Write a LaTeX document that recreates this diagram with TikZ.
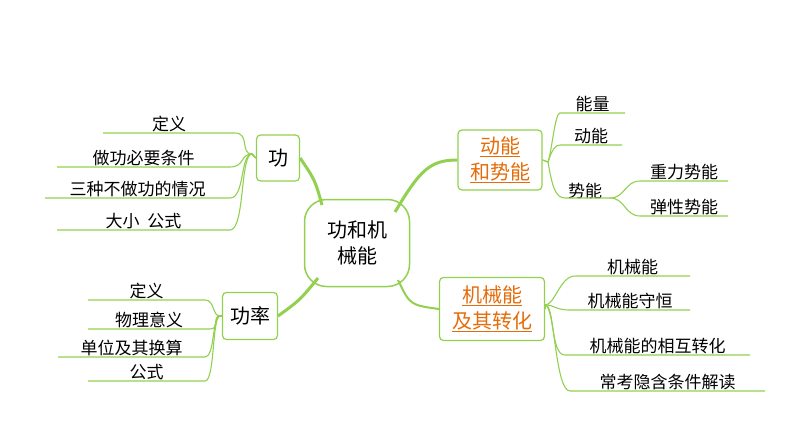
\documentclass[tikz,border=0pt]{standalone}
\usepackage{fontspec}
\setmainfont{Noto Sans CJK SC}
\definecolor{gr}{RGB}{146,208,80}
\definecolor{org}{RGB}{228,108,10}
\begin{document}
\begin{tikzpicture}[x=1pt,y=-1pt,
  box/.style={draw=gr,line width=1.2pt,rounded corners=4pt,fill=white,inner sep=4pt,align=center,font=\fontsize{20}{26}\selectfont},
  leaf/.style={font=\fontsize{17}{20}\selectfont,anchor=south,inner sep=1pt},
  ln/.style={draw=gr,line width=1.1pt},
  big/.style={draw=gr,line width=3pt}]
\useasboundingbox (0,0) rectangle (794,447);
% center
\node[box,rounded corners=22pt,minimum width=105pt,minimum height=87pt,line width=1.5pt] (c) at (357,243) {功和机\\械能};
\node[box,minimum width=43pt,minimum height=46pt] (g) at (278,158) {功};
\node[box,minimum width=55pt,minimum height=47pt] (gl) at (250,316) {功率};
\node[box,minimum width=84pt,minimum height=60pt,text=org] (dn) at (500,160) {\underline{动能}\\\underline{和势能}};
\node[box,minimum width=105pt,minimum height=63pt,text=org] (jx) at (492,309) {\underline{机械能}\\\underline{及其转化}};
% main connectors
\coordinate (c1) at (322,205); \coordinate (c2) at (395,212);
\coordinate (c3) at (318,278); \coordinate (c4) at (398,280);
\draw[big] (c1) .. controls (315,180) .. (g.east);
\draw[big] (c2) .. controls (420,170) and (430,160) .. (dn.west);
\draw[big] (c3) .. controls (300,300) .. (gl.east);
\draw[big,line width=2pt] (c4) .. controls (410,305) .. (jx.west);
% 功 leaves
\coordinate (pg) at (252,154);
\foreach \n/\t/\y/\a/\b in {g1/定义/133/103/235, g2/做功必要条件/167/57/230, g3/三种不做功的情况/198/45/230, g4/大小\ \ 公式/230/57/230}{
  \coordinate (\n a) at (\a,\y); \coordinate (\n b) at (\b,\y);
  \node[leaf] (\n) at ({(\a+\b)/2},\y) {\t};
  \draw[ln] (\n a) -- (\n b) .. controls ({\b+15},\y) and (240,154) .. (pg) -- (g.west);
}
% 功率 leaves
\coordinate (pl) at (220,316);
\foreach \n/\t/\y/\a/\b in {l1/定义/300/88/205, l2/物理意义/329/88/210, l3/单位及其换算/357/58/205, l4/公式/381/88/205}{
  \coordinate (\n a) at (\a,\y); \coordinate (\n b) at (\b,\y);
  \node[leaf] (\n) at ({(\a+\b)/2},\y) {\t};
  \draw[ln] (\n a) -- (\n b) .. controls ({\b+10},\y) and (212,316) .. (pl) -- (gl.west);
}
% 动能和势能 leaves
\coordinate (pd) at (548,162);
\foreach \n/\t/\y/\a/\b in {d1/能量/113/560/625, d2/动能/145/560/622}{
  \coordinate (\n a) at (\a,\y); \coordinate (\n b) at (\b,\y);
  \node[leaf] (\n) at ({(\a+\b)/2},\y) {\t};
  \draw[ln] (dn.east) -- (pd) .. controls (552,150) and (555,\y) .. (\n a) -- (\n b);
}
\coordinate (sa) at (565,198); \coordinate (sb) at (610,198);
\node[leaf] (d3) at (585,200) {势能};
\draw[ln] (pd) .. controls (552,185) and (555,198) .. (sa) -- (sb);
\foreach \n/\t/\y in {s1/重力势能/181, s2/弹性势能/216}{
  \coordinate (\n a) at (640,\y); \coordinate (\n b) at (728,\y);
  \node[leaf] (\n) at (684,\y) {\t};
  \draw[ln] (sb) .. controls (625,198) and (625,\y) .. (\n a) -- (\n b);
}
% 机械能 leaves
\coordinate (pj) at (545,305);
\foreach \n/\t/\y/\a/\b in {j1/机械能/276/575/690, j2/机械能守恒/310/570/690, j3/机械能的相互转化/355/565/750, j4/常考隐含条件解读/391/570/765}{
  \coordinate (\n a) at (\a,\y); \coordinate (\n b) at (\b,\y);
  \node[leaf] (\n) at ({(\a+\b)/2},\y) {\t};
  \draw[ln] (jx.east) -- (pj) .. controls (555,305) and ({\a-15},\y) .. (\n a) -- (\n b);
}
\end{tikzpicture}
\end{document}
